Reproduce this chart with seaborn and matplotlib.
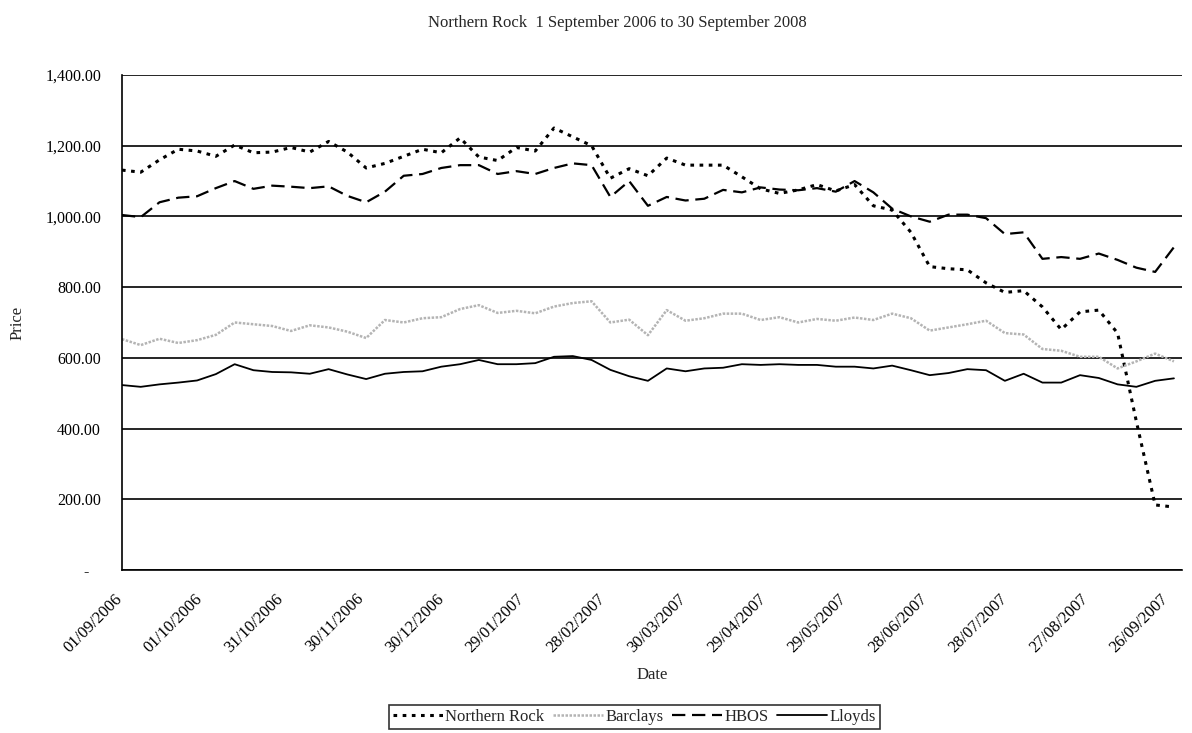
import matplotlib
matplotlib.use("Agg")
import pandas as pd
import numpy as np
import matplotlib.pyplot as plt
import matplotlib.dates as mdates
import matplotlib.transforms as mtransforms
from matplotlib.ticker import FuncFormatter
import seaborn as sns

# weekly closing prices, starting Friday 01/09/2006
start_date = "2006-09-01"
n_weeks = 57

northern_rock = [1131, 1125, 1160, 1190, 1185, 1170, 1202, 1180, 1182, 1195,
                 1182, 1212, 1182, 1137, 1150, 1170, 1190, 1180, 1222, 1168,
                 1158, 1195, 1185, 1250, 1225, 1200, 1108, 1135, 1115, 1165,
                 1145, 1145, 1145, 1112, 1078, 1065, 1075, 1090, 1072, 1090,
                 1030, 1018, 955, 858, 852, 849, 812, 785, 790, 744,
                 680, 730, 735, 670, 420, 184, 178]
barclays = [653, 636, 654, 642, 650, 665, 700, 695, 690, 676,
            692, 686, 674, 656, 707, 700, 712, 715, 738, 749,
            727, 733, 726, 745, 755, 760, 700, 708, 664, 735,
            705, 712, 725, 725, 707, 715, 700, 710, 705, 714,
            707, 725, 712, 677, 686, 695, 705, 670, 666, 625,
            620, 603, 603, 570, 590, 612, 590]
hbos = [1004, 998, 1040, 1053, 1057, 1080, 1100, 1078, 1087, 1084,
        1080, 1085, 1058, 1040, 1070, 1115, 1120, 1137, 1145, 1145,
        1120, 1128, 1120, 1137, 1150, 1145, 1055, 1100, 1030, 1055,
        1045, 1050, 1075, 1068, 1082, 1076, 1074, 1080, 1070, 1100,
        1068, 1022, 1000, 985, 1005, 1005, 995, 950, 955, 880,
        885, 880, 895, 877, 855, 843, 913]
lloyds = [523, 518, 525, 530, 536, 554, 582, 565, 560, 559,
          555, 568, 553, 540, 555, 560, 562, 575, 582, 594,
          582, 582, 585, 603, 605, 594, 566, 548, 535, 570,
          562, 570, 572, 582, 580, 582, 580, 580, 575, 575,
          570, 578, 565, 551, 557, 568, 565, 535, 555, 530,
          530, 551, 543, 525, 518, 535, 542]

series_names = ["Northern Rock", "Barclays", "HBOS", "Lloyds"]

dates = pd.date_range(start_date, periods=n_weeks, freq="7D")
df = pd.DataFrame({"Date": dates,
                   "Northern Rock": northern_rock,
                   "Barclays": barclays,
                   "HBOS": hbos,
                   "Lloyds": lloyds})
long_df = df.melt(id_vars="Date", var_name="Bank", value_name="Price")

sns.set_style("white")
plt.rcParams["font.family"] = ["Liberation Serif", "DejaVu Serif"]

styles = {
    "Northern Rock": dict(color="black", linestyle=(0, (1.2, 1.8)), linewidth=2.2),
    "Barclays": dict(color="#b4b4b4", linestyle=(0, (1, 0.6)), linewidth=1.8),
    "HBOS": dict(color="black", linestyle=(0, (6, 3)), linewidth=1.6),
    "Lloyds": dict(color="black", linestyle="-", linewidth=1.3),
}

fig = plt.figure(figsize=(11.92, 7.33), dpi=100)
ax = fig.add_axes([0.1023, 0.2224, 0.8893, 0.6753])

for name in series_names:
    sub = long_df[long_df["Bank"] == name]
    sns.lineplot(data=sub, x="Date", y="Price", ax=ax, label=name, **styles[name])

# axes limits and grid
ax.set_ylim(0, 1400)
ax.set_xlim(pd.Timestamp("2006-09-01"), pd.Timestamp("2007-10-01"))
ax.set_yticks(np.arange(0, 1401, 200))
ax.yaxis.set_major_formatter(FuncFormatter(lambda v, p: "-   " if v == 0 else f"{v:,.2f}"))
ax.yaxis.grid(True, color="black", linewidth=1.2)
ax.xaxis.grid(False)

tick_dates = pd.date_range("2006-09-01", "2007-09-30", freq="30D")
ax.set_xticks(tick_dates)
ax.xaxis.set_major_formatter(mdates.DateFormatter("%d/%m/%Y"))

ax.tick_params(axis="both", direction="out", length=5, width=1, colors="black")
ax.tick_params(axis="y", labelsize=11.5, pad=10)
ax.tick_params(axis="x", labelsize=12, pad=10)
shift = mtransforms.ScaledTranslation(-8 / 100, 0, fig.dpi_scale_trans)
for lbl in ax.get_xticklabels():
    lbl.set_rotation(45)
    lbl.set_ha("right")
    lbl.set_rotation_mode("anchor")
    lbl.set_transform(lbl.get_transform() + shift)

for side in ["top", "right"]:
    ax.spines[side].set_visible(False)
for side in ["left", "bottom"]:
    ax.spines[side].set_color("black")
    ax.spines[side].set_linewidth(1.2)

ax.set_xlabel("Date", fontsize=12, labelpad=8)
ax.set_ylabel("Price", fontsize=12, labelpad=14)
fig.suptitle("Northern Rock  1 September 2006 to 30 September 2008",
             fontsize=12, x=0.518, y=0.98)

ax.get_legend().remove()
handles, labels = ax.get_legend_handles_labels()
leg = fig.legend(handles, labels, loc="center", bbox_to_anchor=(0.532, 0.0215),
                 ncol=4, frameon=True, fancybox=False, edgecolor="black",
                 fontsize=12, handlelength=3.0, handletextpad=0.15,
                 columnspacing=0.5, borderpad=0.25)
leg.get_frame().set_linewidth(1.2)

fig.savefig("out.png", dpi=100)
